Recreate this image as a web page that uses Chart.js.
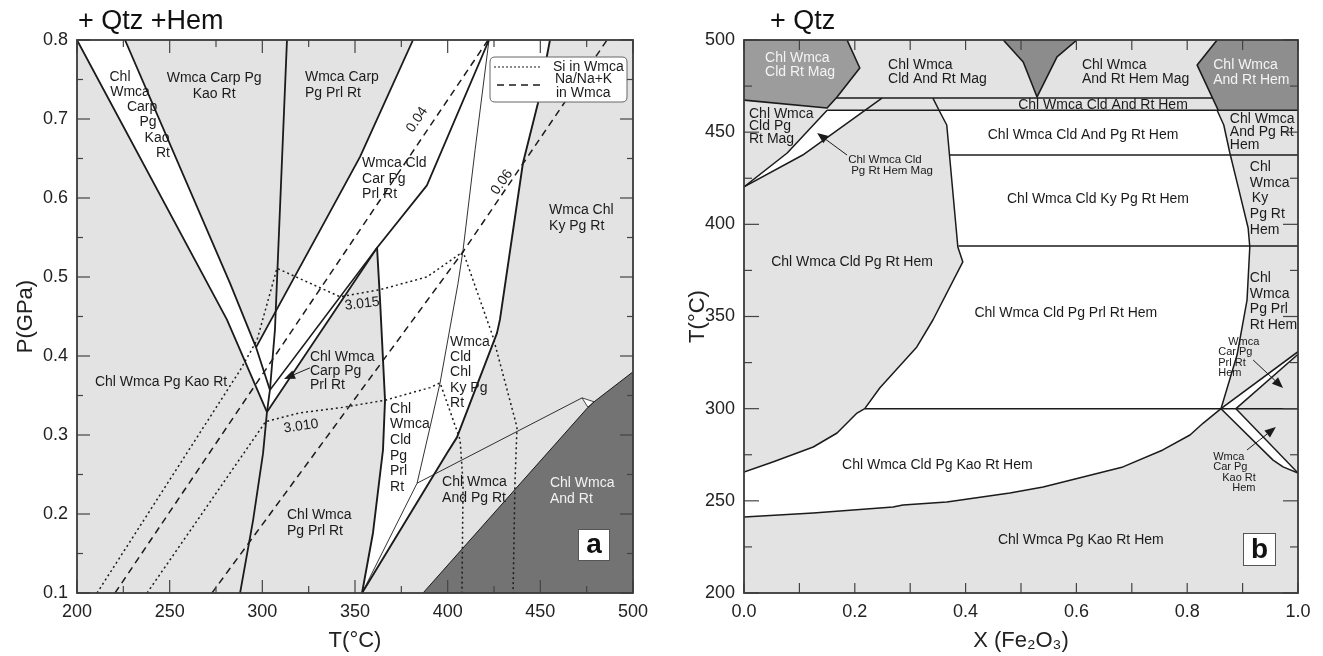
<!DOCTYPE html>
<html>
<head>
<meta charset="utf-8">
<script src="https://cdn.jsdelivr.net/npm/chart.js@4.4.1/dist/chart.umd.min.js"></script>
<style>
  html, body { margin: 0; padding: 0; background: #fff; }
  #wrap { position: relative; width: 1323px; height: 656px; overflow: hidden; }
  canvas { position: absolute; top: 0; }
  #ca { left: 0; }
  #cb { left: 660px; }
</style>
</head>
<body>
<div id="wrap">
  <canvas id="ca" width="660" height="656"></canvas>
  <canvas id="cb" width="663" height="656"></canvas>
</div>
<script>
// ---------- Panel a: P–T section, + Qtz + Hem  (x = T °C, y = P GPa) ----------
const aTempTicks = [200, 250, 300, 350, 400, 450, 500];
const aTempMinor = [225, 275, 325, 375, 425, 475];
const aPresTicks = [0.1, 0.2, 0.3, 0.4, 0.5, 0.6, 0.7, 0.8];
const aPresMinor = [0.15, 0.25, 0.35, 0.45, 0.55, 0.65, 0.75];

const aPlotBox   = [[200, 0.1], [500, 0.1], [500, 0.8], [200, 0.8]];
const aWhiteField = [[200, 0.8], [225.9, 0.8], [282.6, 0.492], [296.6, 0.411], [331.1, 0.559], [352.7, 0.652],
  [381.3, 0.8], [455.2, 0.8], [448.7, 0.72], [440.6, 0.644], [428.2, 0.446], [426.6, 0.429], [405.0, 0.297],
  [399.6, 0.277], [353.8, 0.1], [359.7, 0.176], [365.1, 0.281], [366.2, 0.344], [363.5, 0.471], [361.9, 0.537],
  [302.5, 0.329], [280.9, 0.446]];
const aAndField = [[386.7, 0.1], [475.7, 0.335], [479.0, 0.342], [500, 0.38], [500, 0.1]];
const aNotch    = [[472.5, 0.347], [479.0, 0.342], [475.7, 0.335]];

// univariant reactions
const aKaoOut    = [[200, 0.8], [280.9, 0.446], [302.5, 0.329]];
const aKaoIn     = [[225.9, 0.8], [282.6, 0.492], [296.6, 0.411], [304.1, 0.357]];
const aKaoPrl    = [[313.3, 0.8], [306.8, 0.433], [304.1, 0.357], [302.5, 0.329], [300.4, 0.277], [295.0, 0.192], [288.0, 0.1]];
const aCldIn     = [[381.3, 0.8], [352.7, 0.652], [331.1, 0.559], [296.6, 0.411]];
const aCarpOut   = [[422.3, 0.8], [388.8, 0.616], [361.9, 0.537], [302.5, 0.329]];
const aCarpIn    = [[361.9, 0.537], [304.1, 0.357]];
const aPrlOut    = [[361.9, 0.537], [363.5, 0.471], [366.2, 0.344], [365.1, 0.281], [359.7, 0.176], [353.8, 0.1]];
const aKyIn      = [[422.3, 0.8], [414.8, 0.661], [408.3, 0.534], [405.6, 0.492], [395.9, 0.366], [390.5, 0.31], [383.5, 0.239], [353.8, 0.1]];
const aKyOut     = [[455.2, 0.8], [448.7, 0.72], [440.6, 0.644], [428.2, 0.446], [426.6, 0.429], [405.0, 0.297], [399.6, 0.277], [353.8, 0.1]];
const aAndPg     = [[383.5, 0.239], [472.5, 0.347]];
const aAndEdge   = [[386.7, 0.1], [475.7, 0.335], [479.0, 0.342], [500, 0.38]];

// isopleths
const aSi3015 = [[210.8, 0.1], [288.0, 0.382], [297.1, 0.42], [307.9, 0.511], [341.9, 0.475], [363.5, 0.484],
  [388.8, 0.5], [408.3, 0.532], [424.5, 0.424], [437.4, 0.31], [436.3, 0.239], [435.3, 0.1]];
const aSi3010 = [[237.8, 0.1], [301.8, 0.317], [320.3, 0.328], [343.5, 0.335], [366.2, 0.344], [390.5, 0.36],
  [395.9, 0.366], [406.7, 0.294], [408.3, 0.239], [407.7, 0.1]];
const aNa004  = [[220.5, 0.1], [421.8, 0.8]];
const aNa006  = [[272.8, 0.1], [336.5, 0.303], [408.3, 0.532], [486.0, 0.8]];

// ---------- Panel b: T–X(Fe2O3) section, + Qtz ----------
const bFracTicks = [0, 0.2, 0.4, 0.6, 0.8, 1.0];
const bFracMinor = [0.1, 0.3, 0.5, 0.7, 0.9];
const bTempTicks = [200, 250, 300, 350, 400, 450, 500];
const bTempMinor = [225, 275, 325, 375, 425, 475];

const bPlotBox    = [[0, 200], [1, 200], [1, 500], [0, 500]];
const bMagField   = [[0, 500], [0.186, 500], [0.209, 484.8], [0.168, 469.1], [0.150, 463.1], [0, 467.4]];
const bMagAndField = [[0.468, 500], [0.601, 500], [0.565, 490.8], [0.529, 469.1], [0.504, 488.1]];
const bAndHemField = [[0.854, 500], [1, 500], [1, 461.9], [0.856, 461.9], [0.818, 486.4]];
const bWhiteField = [[0.352, 461.9], [0.856, 461.9], [0.866, 453.9], [0.877, 438.7], [0.892, 420.3], [0.910, 398.0],
  [0.913, 387.7], [0.908, 358.9], [0.890, 329.1], [0.861, 300], [0.829, 292.2], [0.805, 285.7], [0.756, 277.6],
  [0.684, 268.4], [0.540, 257.5], [0.480, 254.3], [0.366, 249.4], [0.287, 247.7], [0.269, 246.7], [0.125, 243.4],
  [0, 241.2], [0, 265.6], [0.052, 271.1], [0.125, 279.2], [0.168, 286.8], [0.204, 297.6], [0.218, 300],
  [0.245, 311.2], [0.312, 333.5], [0.341, 348.1], [0.395, 379.6], [0.386, 387.7], [0.366, 453.9]];
const bMagWedge  = [[0, 420.3], [0.078, 438.7], [0.150, 461.9], [0.218, 461.9], [0.106, 437.6]];
const bPrlSliver = [[0.861, 300], [0.888, 300], [1, 329.5], [1, 330.9]];
const bKaoSliver = [[0.861, 300], [0.888, 300], [1, 265.1], [0.973, 268.4], [0.955, 272.1]];

const bMagEdge    = [[0.186, 500], [0.209, 484.8], [0.168, 469.1], [0.150, 463.1], [0, 467.4]];
const bTriEdge    = [[0.468, 500], [0.504, 488.1], [0.529, 469.1], [0.565, 490.8], [0.601, 500]];
const bAndHemEdge = [[0.854, 500], [0.818, 486.4], [0.856, 461.9], [1, 461.9]];
const bT469       = [[0.166, 468.5], [0.845, 468.5]];
const bT462       = [[0.150, 461.9], [0.856, 461.9]];
const bWedgeUp    = [[0, 420.3], [0.078, 438.7], [0.150, 461.9]];
const bWedgeLow   = [[0, 420.3], [0.106, 437.6], [0.249, 468.5]];
const bCldPgEdge  = [[0, 265.6], [0.052, 271.1], [0.125, 279.2], [0.168, 286.8], [0.204, 297.6], [0.218, 300],
  [0.245, 311.2], [0.312, 333.5], [0.341, 348.1], [0.395, 379.6], [0.386, 387.7], [0.366, 453.9], [0.352, 461.9], [0.341, 468.5]];
const bT438       = [[0.371, 437.6], [1, 437.6]];
const bT388       = [[0.387, 388.2], [1, 388.2]];
const bT300       = [[0.218, 300], [1, 300]];
const bKyEdge     = [[0.854, 461.9], [0.866, 453.9], [0.877, 438.7], [0.892, 420.3], [0.910, 398.0], [0.913, 387.7],
  [0.908, 358.9], [0.890, 329.1], [0.861, 300]];
const bKaoEdge    = [[0, 241.2], [0.125, 243.4], [0.269, 246.7], [0.287, 247.7], [0.366, 249.4], [0.480, 254.3],
  [0.540, 257.5], [0.684, 268.4], [0.756, 277.6], [0.805, 285.7], [0.829, 292.2], [0.861, 300]];
const bPrlA = [[0.861, 300], [1, 330.9]];
const bPrlB = [[0.888, 300], [1, 329.5]];
const bKaoA = [[0.861, 300], [0.955, 272.1], [0.973, 268.4], [1, 265.1]];
const bKaoB = [[0.888, 300], [1, 265.1]];

// ---------- field labels (anchored in data units) ----------
const aLabels = [
  { t: ['Chl'], x: 223.2, y: 0.753, al: 'center' },
  { t: ['Wmca'], x: 228.6, y: 0.734, al: 'center' },
  { t: ['Carp'], x: 235.1, y: 0.715, al: 'center' },
  { t: ['Pg'], x: 238.3, y: 0.696, al: 'center' },
  { t: ['Kao'], x: 243.2, y: 0.676, al: 'center' },
  { t: ['Rt'], x: 246.4, y: 0.657, al: 'center' },
  { t: ['Wmca Carp Pg', 'Kao Rt'], x: 274.0, y: 0.752, al: 'center', lh: 16 },
  { t: ['Wmca Carp', 'Pg Prl Rt'], x: 323.0, y: 0.753, lh: 16 },
  { t: ['Wmca Cld', 'Car Pg', 'Prl Rt'], x: 353.8, y: 0.644, lh: 15.5 },
  { t: ['Wmca Chl', 'Ky Pg Rt'], x: 454.7, y: 0.585, lh: 16 },
  { t: ['Chl Wmca Pg Kao Rt'], x: 209.7, y: 0.367 },
  { t: ['Chl Wmca', 'Carp Pg', 'Prl Rt'], x: 325.7, y: 0.399, lh: 14 },
  { t: ['Chl Wmca', 'Pg Prl Rt'], x: 313.3, y: 0.199, lh: 16 },
  { t: ['Chl', 'Wmca', 'Cld', 'Pg', 'Prl', 'Rt'], x: 368.9, y: 0.333, lh: 15.6 },
  { t: ['Wmca', 'Cld', 'Chl', 'Ky Pg', 'Rt'], x: 401.3, y: 0.418, lh: 15.3 },
  { t: ['Chl Wmca', 'And Pg Rt'], x: 397.0, y: 0.240, lh: 16 },
  { t: ['Chl Wmca', 'And Rt'], x: 455.2, y: 0.239, lh: 16, color: '#f2f2f2' },
  { t: ['0.04'], x: 383.5, y: 0.699, al: 'center', rot: -56 },
  { t: ['0.06'], x: 429.3, y: 0.620, al: 'center', rot: -55 },
  { t: ['3.015'], x: 353.8, y: 0.466, al: 'center', rot: -7 },
  { t: ['3.010'], x: 320.9, y: 0.311, al: 'center', rot: -8 }
];
const bLabels = [
  { t: ['Chl Wmca', 'Cld Rt Mag'], x: 0.038, y: 490.2, lh: 14, color: '#f4f4f4' },
  { t: ['Chl Wmca', 'Cld And Rt Mag'], x: 0.260, y: 486.4, lh: 14 },
  { t: ['Chl Wmca', 'And Rt Hem Mag'], x: 0.610, y: 486.4, lh: 14 },
  { t: ['Chl Wmca', 'And Rt Hem'], x: 0.847, y: 486.4, lh: 15, color: '#f4f4f4' },
  { t: ['Chl Wmca Cld And Rt Hem'], x: 0.648, y: 464.7, al: 'center' },
  { t: ['Chl Wmca', 'Cld Pg', 'Rt Mag'], x: 0.009, y: 459.9, lh: 12.5 },
  { t: ['Chl Wmca Cld', 'Pg Rt Hem Mag'], x: 0.188, y: 434.9, lh: 11, size: 11.5, dx: [0, 3] },
  { t: ['Chl Wmca Cld And Pg Rt Hem'], x: 0.612, y: 448.5, al: 'center' },
  { t: ['Chl Wmca', 'And Pg Rt', 'Hem'], x: 0.877, y: 457.1, lh: 13 },
  { t: ['Chl Wmca Cld Ky Pg Rt Hem'], x: 0.639, y: 413.7, al: 'center' },
  { t: ['Chl', 'Wmca', 'Ky', 'Pg Rt', 'Hem'], x: 0.913, y: 431.1, lh: 15.8, dx: [0, 0, 2, 0, 0] },
  { t: ['Chl Wmca Cld Pg Prl Rt Hem'], x: 0.581, y: 351.9, al: 'center' },
  { t: ['Chl', 'Wmca', 'Pg Prl', 'Rt Hem'], x: 0.913, y: 370.9, lh: 15.7 },
  { t: ['Chl Wmca Cld Pg Rt Hem'], x: 0.195, y: 379.6, al: 'center' },
  { t: ['Wmca', 'Car Pg', 'Prl Rt', 'Hem'], x: 0.856, y: 336.2, lh: 10.4, size: 11, dx: [10, 0, 0, 0] },
  { t: ['Wmca', 'Car Pg', 'Kao Rt', 'Hem'], x: 0.847, y: 273.8, lh: 10.3, size: 11, dx: [0, 0, 9, 19] },
  { t: ['Chl Wmca Cld Pg Kao Rt Hem'], x: 0.177, y: 269.4 },
  { t: ['Chl Wmca Pg Kao Rt Hem'], x: 0.608, y: 228.8, al: 'center' }
];
const aArrows = [{ from: [325.7, 0.385], to: [311.7, 0.371] }];
const bArrows = [
  { from: [0.186, 437.6], to: [0.132, 449.5] },
  { from: [0.919, 326.4], to: [0.973, 311.2] },
  { from: [0.908, 277.6], to: [0.960, 290.0] }
];

// ---------- drawing helpers ----------
const FONT = '"Liberation Sans", Arial, Helvetica, sans-serif';
const INK = '#1b1b1b';
const LIGHT = '#e3e3e3';

const pts = a => a.map(p => ({ x: p[0], y: p[1] }));
const region = (a, color, order) => ({
  data: pts(a), showLine: true, fill: 'shape', backgroundColor: color,
  borderColor: 'transparent', borderWidth: 0, pointRadius: 0, tension: 0, order: order || 20
});
const edge = (a, w, dash) => ({
  data: pts(a), showLine: true, fill: false, borderColor: INK, borderWidth: w,
  borderDash: dash || [], pointRadius: 0, tension: 0, order: 1, borderJoinStyle: 'round'
});

const decor = {
  id: 'decor',
  afterDatasetsDraw(chart, args, o) {
    const ctx = chart.ctx, xs = chart.scales.x, ys = chart.scales.y, ca = chart.chartArea;
    const X = v => xs.getPixelForValue(v), Y = v => ys.getPixelForValue(v);
    ctx.save();
    ctx.setLineDash([]);

    // arrows
    ctx.strokeStyle = INK; ctx.fillStyle = INK; ctx.lineWidth = 1;
    (o.arrows || []).forEach(a => {
      const x0 = X(a.from[0]), y0 = Y(a.from[1]), x1 = X(a.to[0]), y1 = Y(a.to[1]);
      const ang = Math.atan2(y1 - y0, x1 - x0), L = 11, W = 4.5;
      const bx = x1 - L * Math.cos(ang), by = y1 - L * Math.sin(ang);
      ctx.beginPath(); ctx.moveTo(x0, y0); ctx.lineTo(bx, by); ctx.stroke();
      ctx.beginPath(); ctx.moveTo(x1, y1);
      ctx.lineTo(bx + W * Math.sin(ang), by - W * Math.cos(ang));
      ctx.lineTo(bx - W * Math.sin(ang), by + W * Math.cos(ang));
      ctx.closePath(); ctx.fill();
    });

    // field labels
    (o.labels || []).forEach(l => {
      ctx.save();
      ctx.font = (l.size || 14) + 'px ' + FONT;
      ctx.fillStyle = l.color || INK;
      ctx.textAlign = l.al || 'left';
      ctx.textBaseline = 'middle';
      ctx.translate(X(l.x), Y(l.y));
      if (l.rot) ctx.rotate(l.rot * Math.PI / 180);
      l.t.forEach((s, i) => ctx.fillText(s, l.dx ? l.dx[i] : 0, i * (l.lh || 16)));
      ctx.restore();
    });

    // legend
    if (o.legend) {
      const lx = ca.right - 143, ly = ca.top + 17, lw = 137, lh = 45, r = 5;
      ctx.beginPath();
      ctx.moveTo(lx + r, ly); ctx.lineTo(lx + lw - r, ly); ctx.quadraticCurveTo(lx + lw, ly, lx + lw, ly + r);
      ctx.lineTo(lx + lw, ly + lh - r); ctx.quadraticCurveTo(lx + lw, ly + lh, lx + lw - r, ly + lh);
      ctx.lineTo(lx + r, ly + lh); ctx.quadraticCurveTo(lx, ly + lh, lx, ly + lh - r);
      ctx.lineTo(lx, ly + r); ctx.quadraticCurveTo(lx, ly, lx + r, ly);
      ctx.closePath();
      ctx.fillStyle = '#fff'; ctx.fill();
      ctx.strokeStyle = '#666'; ctx.lineWidth = 1; ctx.stroke();
      ctx.strokeStyle = INK; ctx.lineWidth = 1.2;
      ctx.setLineDash([2, 2]);
      ctx.beginPath(); ctx.moveTo(lx + 4, ly + 10); ctx.lineTo(lx + 50, ly + 10); ctx.stroke();
      ctx.setLineDash([7, 5]); ctx.lineWidth = 1.5;
      ctx.beginPath(); ctx.moveTo(lx + 7, ly + 28); ctx.lineTo(lx + 52, ly + 28); ctx.stroke();
      ctx.setLineDash([]);
      ctx.fillStyle = INK; ctx.font = '14px ' + FONT; ctx.textAlign = 'left'; ctx.textBaseline = 'middle';
      ctx.fillText('Si in Wmca', lx + 63, ly + 10);
      ctx.fillText('Na/Na+K', lx + 65, ly + 22);
      ctx.fillText('in Wmca', lx + 66, ly + 36);
    }

    // inward tick marks on all four sides
    const tk = o.ticks;
    ctx.strokeStyle = '#444'; ctx.lineWidth = 1.2;
    const seg = (x0, y0, x1, y1) => { ctx.beginPath(); ctx.moveTo(x0, y0); ctx.lineTo(x1, y1); ctx.stroke(); };
    const xMarks = tk.xMajor.map(v => [v, tk.xLong]).concat(tk.xMinor.map(v => [v, tk.xShort]));
    const yMarks = tk.yMajor.map(v => [v, tk.yLong]).concat(tk.yMinor.map(v => [v, tk.yShort]));
    xMarks.forEach(([v, len]) => { const p = X(v); seg(p, ca.bottom, p, ca.bottom - len); seg(p, ca.top, p, ca.top + len); });
    yMarks.forEach(([v, len]) => { const p = Y(v); seg(ca.left, p, ca.left + len, p); seg(ca.right, p, ca.right - len, p); });

    // frame
    ctx.lineWidth = 1.8; ctx.strokeStyle = '#3a3a3a';
    ctx.strokeRect(ca.left, ca.top, ca.right - ca.left, ca.bottom - ca.top);

    // panel letter
    if (o.letter) {
      const b = o.letter;
      const bx = ca.right - b.dr, by = ca.bottom - b.db;
      ctx.fillStyle = '#fff'; ctx.fillRect(bx, by, b.w, b.w);
      ctx.strokeStyle = '#555'; ctx.lineWidth = 1; ctx.strokeRect(bx + 0.5, by + 0.5, b.w, b.w);
      ctx.fillStyle = '#111'; ctx.font = 'bold 28px ' + FONT; ctx.textAlign = 'center'; ctx.textBaseline = 'middle';
      ctx.fillText(b.text, bx + b.w / 2 + 0.5, by + b.w / 2 + 1);
    }

    // panel heading
    if (o.heading) {
      ctx.fillStyle = '#111'; ctx.font = '27px ' + FONT; ctx.textAlign = 'left'; ctx.textBaseline = 'middle';
      ctx.fillText(o.heading.text, ca.left + o.heading.dx, ca.top - 18);
    }
    ctx.restore();
  }
};

function axis(min, max, tickList, fmt, title, fitSize, horizontal, titlePad) {
  const cfg = {
    type: 'linear', min, max,
    afterBuildTicks: s => { s.ticks = tickList.map(v => ({ value: v })); },
    ticks: {
      font: { size: 18, family: FONT }, color: '#222', autoSkip: false, maxRotation: 0,
      padding: horizontal ? 8 : 9, callback: fmt
    },
    grid: { display: false, drawTicks: false },
    border: { display: false },
    title: { display: true, text: title, color: '#222', font: { size: 22, family: FONT }, padding: titlePad }
  };
  cfg.afterFit = horizontal ? (s => { s.height = fitSize; }) : (s => { s.width = fitSize; });
  return cfg;
}

const common = (padRight) => ({
  responsive: false, animation: false, events: [],
  layout: { padding: { left: 0, right: padRight, top: 40, bottom: 0 } }
});

// ---------- chart a ----------
new Chart(document.getElementById('ca'), {
  type: 'scatter',
  data: {
    datasets: [
      edge(aKaoOut, 1.8), edge(aKaoIn, 1.8), edge(aKaoPrl, 1.8), edge(aCldIn, 1.8),
      edge(aCarpOut, 1.8), edge(aCarpIn, 1.5), edge(aPrlOut, 1.9), edge(aKyIn, 0.9),
      edge(aKyOut, 1.9), edge(aAndPg, 0.9), edge(aAndEdge, 1.0),
      edge(aNotch.concat([aNotch[0]]), 0.8),
      edge(aSi3015, 1.5, [2, 3]), edge(aSi3010, 1.5, [2, 3]),
      edge(aNa004, 1.5, [7, 5]), edge(aNa006, 1.5, [7, 5]),
      region(aNotch, '#ffffff', 18),
      region(aAndField, '#737373', 19),
      region(aWhiteField, '#ffffff', 20),
      region(aPlotBox, LIGHT, 30)
    ]
  },
  options: Object.assign(common(27), {
    plugins: {
      legend: { display: false }, tooltip: { enabled: false },
      decor: {
        labels: aLabels, arrows: aArrows, legend: true, heading: { text: '+ Qtz +Hem', dx: 1 },
        letter: { text: 'a', dr: 55, db: 64, w: 31 },
        ticks: { xMajor: aTempTicks, xMinor: aTempMinor, yMajor: aPresTicks, yMinor: aPresMinor,
                 xLong: 13, xShort: 7, yLong: 13, yShort: 6 }
      }
    },
    scales: {
      x: axis(200, 500, aTempTicks, v => String(v), 'T(°C)', 63, true, { top: 0, bottom: 2 }),
      y: axis(0.1, 0.8, aPresTicks, v => v.toFixed(1), 'P(GPa)', 77, false, { top: 13, bottom: 0 })
    }
  }),
  plugins: [decor]
});

// ---------- chart b ----------
new Chart(document.getElementById('cb'), {
  type: 'scatter',
  data: {
    datasets: [
      edge(bMagEdge, 1.6), edge(bTriEdge, 1.6), edge(bAndHemEdge, 1.6),
      edge(bT469, 1.5), edge(bT462, 1.5), edge(bWedgeUp, 1.5), edge(bWedgeLow, 1.5),
      edge(bCldPgEdge, 1.5), edge(bT438, 1.5), edge(bT388, 1.5), edge(bT300, 1.5),
      edge(bKyEdge, 1.5), edge(bKaoEdge, 1.5),
      edge(bPrlA, 1.5), edge(bPrlB, 1.5), edge(bKaoA, 1.5), edge(bKaoB, 1.5),
      region(bPrlSliver, '#ffffff', 17),
      region(bKaoSliver, '#ffffff', 17),
      region(bMagWedge, '#ffffff', 18),
      region(bMagField, '#9c9c9c', 19),
      region(bMagAndField, '#8c8c8c', 19),
      region(bAndHemField, '#8e8e8e', 19),
      region(bWhiteField, '#ffffff', 20),
      region(bPlotBox, LIGHT, 30)
    ]
  },
  options: Object.assign(common(25), {
    plugins: {
      legend: { display: false }, tooltip: { enabled: false },
      decor: {
        labels: bLabels, arrows: bArrows, heading: { text: '+ Qtz', dx: 26 },
        letter: { text: 'b', dr: 55, db: 60, w: 32 },
        ticks: { xMajor: bFracTicks, xMinor: bFracMinor, yMajor: bTempTicks, yMinor: bTempMinor,
                 xLong: 10, xShort: 10, yLong: 15, yShort: 8 }
      }
    },
    scales: {
      x: axis(0, 1, bFracTicks, v => v.toFixed(1), 'X (Fe₂O₃)', 63, true, { top: 0, bottom: 2 }),
      y: axis(200, 500, bTempTicks, v => String(v), 'T(°C)', 84, false, { top: 25, bottom: 0 })
    }
  }),
  plugins: [decor]
});
</script>
</body>
</html>
